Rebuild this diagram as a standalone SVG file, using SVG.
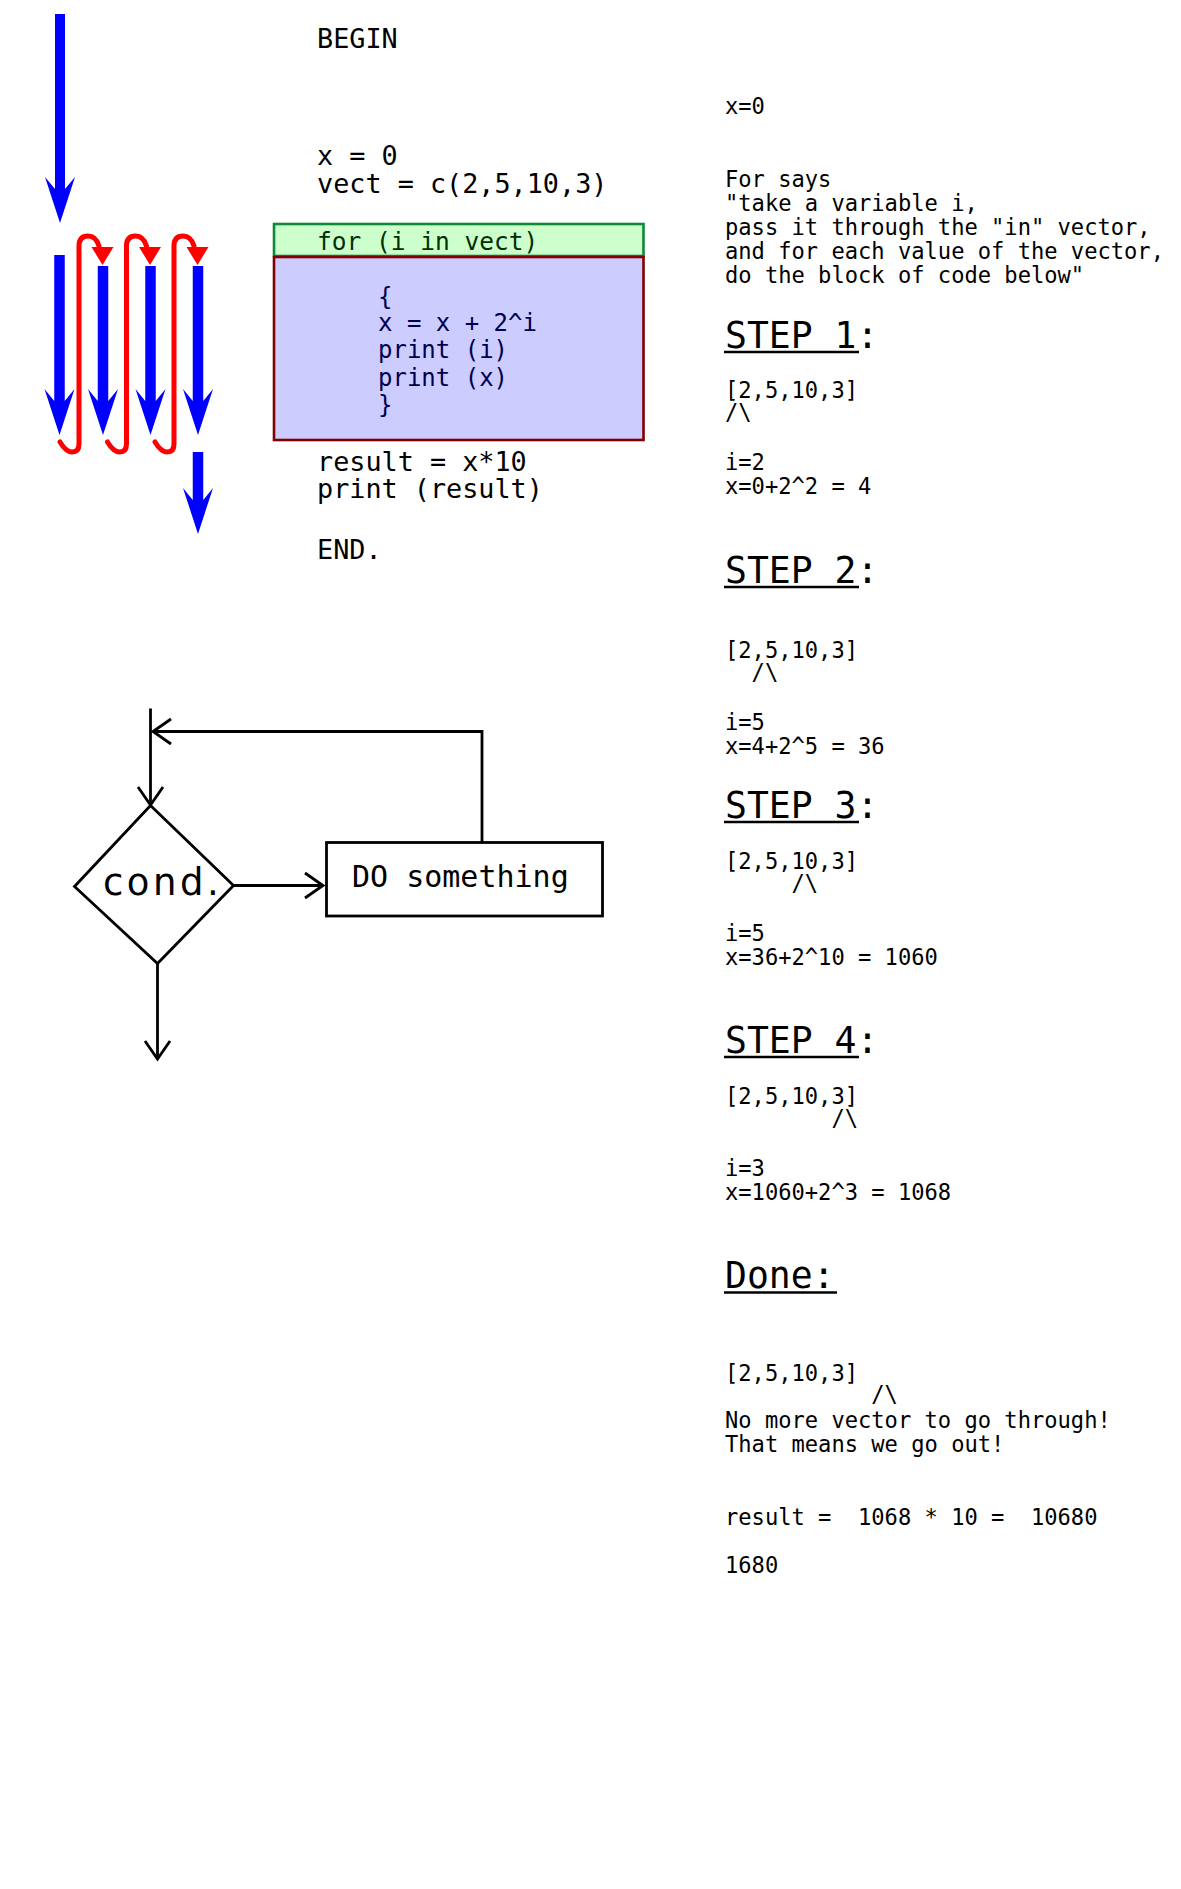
<svg xmlns="http://www.w3.org/2000/svg" width="1181" height="1889" viewBox="0 0 1181 1889">
<defs>
<style>
.blue{fill:#0000ff;stroke:none}
.red{fill:none;stroke:#ff0000;stroke-width:5;stroke-linecap:round;stroke-linejoin:round}
.redhead{fill:#ff0000;stroke:none}
.code{font-family:"DejaVu Sans Mono","Liberation Mono",monospace;font-size:26.8px;fill:#000000}
.inner{font-family:"DejaVu Sans Mono","Liberation Mono",monospace;font-size:24px;fill:#000050}
.fortxt{font-family:"DejaVu Sans Mono","Liberation Mono",monospace;font-size:24.5px;fill:#003000}
.note{font-family:"DejaVu Sans Mono","Liberation Mono",monospace;font-size:22.1px;fill:#000000;white-space:pre}
.step{font-family:"DejaVu Sans Mono","Liberation Mono",monospace;font-size:36.4px;fill:#000000}
.ul{stroke:#000000;stroke-width:2.4}
.fl{fill:none;stroke:#000000;stroke-width:2.8}
.flt{fill:#ffffff;stroke:#000000;stroke-width:2.8}
</style>
<marker id="chev" markerUnits="userSpaceOnUse" markerWidth="40" markerHeight="40" refX="0" refY="0" orient="auto" overflow="visible">
<path d="M -18,-12.5 L 0,0 L -18,12.5" fill="none" stroke="#000000" stroke-width="2.8"/>
</marker>
</defs>
<rect x="0" y="0" width="1181" height="1889" fill="#ffffff"/>

<g id="loop-arrows">
<path class="blue" d="M55,14 L65,14 L65,189 L75,177 L60,223 L45,177 L55,189 Z"/>
<path class="blue" d="M54.25,255 L64.75,255 L64.75,401 L74.5,389 L59.5,435 L44.5,389 L54.25,401 Z"/>
<path class="blue" d="M97.75,266 L108.25,266 L108.25,401 L118,389 L103,435 L88,389 L97.75,401 Z"/>
<path class="blue" d="M145.25,266 L155.75,266 L155.75,401 L165.5,389 L150.5,435 L135.5,389 L145.25,401 Z"/>
<path class="blue" d="M192.75,266 L203.25,266 L203.25,401 L213,389 L198,435 L183,389 L192.75,401 Z"/>
<path class="blue" d="M192.75,452 L203.25,452 L203.25,500 L213,488 L198,534 L183,488 L192.75,500 Z"/>
<path class="red" d="M60,442 Q66,452 72,452 Q79,452 79,444 L79,246 Q79,236 88,236 Q96,236 99,246"/>
<polygon class="redhead" points="91.5,247 113.5,247 102.5,265"/>
<path class="red" d="M107.5,442 Q113.5,452 119.5,452 Q126.5,452 126.5,444 L126.5,246 Q126.5,236 135.5,236 Q143.5,236 146.5,246"/>
<polygon class="redhead" points="139,247 161,247 150,265"/>
<path class="red" d="M155,442 Q161,452 167,452 Q174,452 174,444 L174,246 Q174,236 183,236 Q191,236 194,246"/>
<polygon class="redhead" points="186.5,247 208.5,247 197.5,265"/>
</g>

<g id="code">
<text class="code" x="317" y="48">BEGIN</text>
<text class="code" x="317" y="164.5">x = 0</text>
<text class="code" x="317" y="193">vect = c(2,5,10,3)</text>
<g id="for-header">
<rect x="274" y="224" width="369.5" height="32" fill="#ccffcc" stroke="#0e8a36" stroke-width="2.6"/>
<text class="fortxt" x="317" y="249.5">for (i in vect)</text>
</g>
<g id="for-body">
<rect x="274" y="257" width="369.5" height="183" fill="#ccccff" stroke="#800000" stroke-width="2.6"/>
<text class="inner" x="378" y="305">{</text>
<text class="inner" x="378" y="331">x = x + 2^i</text>
<text class="inner" x="378" y="358">print (i)</text>
<text class="inner" x="378" y="385.5">print (x)</text>
<text class="inner" x="378" y="412.5">}</text>
</g>
<text class="code" x="317" y="470.5">result = x*10</text>
<text class="code" x="317" y="497.5">print (result)</text>
<text class="code" x="317" y="558.5">END.</text>
</g>

<g id="notes">
<text class="note" x="725" y="114">x=0</text>
<text class="note" x="725" y="187">For says</text>
<text class="note" x="725" y="211">"take a variable i,</text>
<text class="note" x="725" y="235">pass it through the "in" vector,</text>
<text class="note" x="725" y="259">and for each value of the vector,</text>
<text class="note" x="725" y="283">do the block of code below"</text>
</g>

<g id="step1">
<text class="step" x="725" y="348">STEP 1:</text>
<line class="ul" x1="724" y1="352" x2="859" y2="352"/>
<text class="note" x="725" y="398">[2,5,10,3]</text>
<text class="note" x="725" y="420">/\</text>
<text class="note" x="725" y="469.5">i=2</text>
<text class="note" x="725" y="493.5">x=0+2^2 = 4</text>
</g>

<g id="step2">
<text class="step" x="725" y="583">STEP 2:</text>
<line class="ul" x1="724" y1="587" x2="859" y2="587"/>
<text class="note" x="725" y="658">[2,5,10,3]</text>
<text class="note" x="751.6" y="680">/\</text>
<text class="note" x="725" y="730">i=5</text>
<text class="note" x="725" y="754">x=4+2^5 = 36</text>
</g>

<g id="step3">
<text class="step" x="725" y="818">STEP 3:</text>
<line class="ul" x1="724" y1="822" x2="859" y2="822"/>
<text class="note" x="725" y="869">[2,5,10,3]</text>
<text class="note" x="791.5" y="891">/\</text>
<text class="note" x="725" y="941">i=5</text>
<text class="note" x="725" y="965">x=36+2^10 = 1060</text>
</g>

<g id="step4">
<text class="step" x="725" y="1053">STEP 4:</text>
<line class="ul" x1="724" y1="1057" x2="859" y2="1057"/>
<text class="note" x="725" y="1104">[2,5,10,3]</text>
<text class="note" x="831.4" y="1126">/\</text>
<text class="note" x="725" y="1176">i=3</text>
<text class="note" x="725" y="1200">x=1060+2^3 = 1068</text>
</g>

<g id="done">
<text class="step" x="725" y="1288">Done:</text>
<line class="ul" x1="724" y1="1292.5" x2="837" y2="1292.5"/>
<text class="note" x="725" y="1381">[2,5,10,3]</text>
<text class="note" x="871.3" y="1402">/\</text>
<text class="note" x="725" y="1428">No more vector to go through!</text>
<text class="note" x="725" y="1452">That means we go out!</text>
<text class="note" x="725" y="1525" xml:space="preserve">result =  1068 * 10 =  10680</text>
<text class="note" x="725" y="1573">1680</text>
</g>

<g id="connectors">
<line class="fl" x1="150.5" y1="708.5" x2="150.5" y2="805" marker-end="url(#chev)"/>
<polyline class="fl" points="482,842.5 482,731.5 153,731.5" marker-end="url(#chev)"/>
<line class="fl" x1="233.5" y1="885.5" x2="323" y2="885.5" marker-end="url(#chev)"/>
<line class="fl" x1="157.5" y1="963.5" x2="157.5" y2="1059" marker-end="url(#chev)"/>
</g>

<g id="cond">
<polygon class="flt" points="150.5,805.5 233.5,885.5 157.5,963.5 74.5,886.5"/>
<text x="103" y="895" font-family="'DejaVu Sans','Liberation Sans',sans-serif" font-size="37" letter-spacing="3.5" fill="#000000">cond.</text>
</g>

<g id="do-something">
<rect class="flt" x="326.5" y="842.5" width="276" height="73.5"/>
<text x="352" y="887" font-family="'DejaVu Sans Mono','Liberation Mono',monospace" font-size="30" fill="#000000">DO something</text>
</g>
</svg>
